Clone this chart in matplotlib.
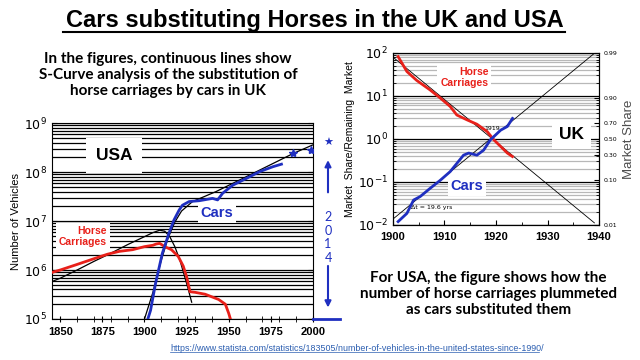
import numpy as np
import matplotlib
matplotlib.use("Agg")
import matplotlib.pyplot as plt
from matplotlib.patches import FancyArrowPatch
from matplotlib.ticker import LogLocator, FixedLocator, NullFormatter, FixedFormatter

# ---- USA data (number of vehicles) ----
usa_horse_year = [1845, 1850, 1860, 1870, 1878, 1885, 1893, 1900, 1905, 1907, 1909, 1912, 1916, 1920, 1923, 1925, 1927, 1930, 1936, 1944, 1948, 1950, 1951]
usa_horse_val = [8.9e5, 1.0e6, 1.3e6, 1.7e6, 2.1e6, 2.4e6, 2.6e6, 3.0e6, 3.2e6, 3.4e6, 3.5e6, 3.0e6, 2.6e6, 1.9e6, 1.2e6, 7.3e5, 3.6e5, 3.5e5, 3.2e5, 2.5e5, 2.0e5, 1.3e5, 1.0e5]

usa_horse_fit_year = [1845, 1850, 1860, 1870, 1880, 1890, 1900, 1905, 1909, 1912, 1915, 1918, 1921, 1924, 1926, 1928]
usa_horse_fit_val = [5.8e5, 6.8e5, 1e6, 1.5e6, 2.2e6, 3.3e6, 4.8e6, 5.8e6, 6.5e6, 6.2e6, 4.8e6, 3.0e6, 1.6e6, 7e5, 4e5, 2.2e5]

usa_car_year = [1902, 1903.6, 1906.6, 1910.6, 1914.5, 1917.5, 1920.5, 1922.5, 1926.5, 1932.5, 1936.5, 1940.4, 1943.4, 1946.4, 1952.4, 1960.4, 1968.3, 1976.3, 1981.3]
usa_car_val = [1e5, 1.5e5, 5.4e5, 2.2e6, 5.6e6, 1.05e7, 1.66e7, 2.1e7, 2.5e7, 2.6e7, 2.75e7, 2.9e7, 2.7e7, 3.7e7, 5.4e7, 7.4e7, 1.02e8, 1.29e8, 1.45e8]

usa_car_fit_year = [1900, 1905, 1910, 1914, 1918, 1922, 1928.5, 1942.5, 1964.4, 1988.3, 2000]
usa_car_fit_val = [1e5, 3.5e5, 1.6e6, 4.5e6, 9.5e6, 1.6e7, 2.5e7, 4e7, 9.4e7, 2.4e8, 3.6e8]

usa_star_year = [1988, 1998.6]
usa_star_val = [2.4e8, 2.8e8]

# ---- UK data (market share / remaining market) ----
uk_horse_year = [1901.0, 1902.7, 1904.6, 1907.2, 1909.2, 1911.1, 1912.4, 1914.4, 1916.3, 1918.3, 1919.6, 1920.9, 1922.2, 1923.2]
uk_horse_val = [82, 37, 23, 13.8, 8.9, 5.7, 3.6, 2.77, 2.2, 1.48, 0.95, 0.67, 0.47, 0.39]

uk_car_year = [1901.0, 1902.7, 1904.0, 1905.3, 1907.2, 1909.2, 1911.1, 1912.4, 1913.7, 1914.7, 1916.3, 1917.6, 1918.9, 1920.9, 1922.2, 1923.2]
uk_car_val = [0.012, 0.0186, 0.038, 0.046, 0.071, 0.11, 0.174, 0.27, 0.42, 0.47, 0.42, 0.55, 0.95, 1.6, 1.95, 3.0]

uk_fit_up_year = [1899.1, 1939.1]
uk_fit_up_val = [0.0112, 98]
uk_fit_down_year = [1899.1, 1939.1]
uk_fit_down_val = [98, 0.0112]

share_ticks = [0.01, 0.10, 0.30, 0.50, 0.70, 0.90, 0.99]

RED = "#e8201a"
BLUE = "#1f2fc0"
body = ["Lato", "DejaVu Sans"]
arial = ["Liberation Sans", "DejaVu Sans"]

plt.rcParams["mathtext.default"] = "bf"

fig = plt.figure(figsize=(6.4, 3.6), dpi=100)
fig.patch.set_facecolor("white")

# title
fig.text(0.492, 0.925, "Cars substituting Horses in the UK and USA", ha="center", va="baseline",
         fontsize=17, fontweight="bold", family=arial)
fig.add_artist(plt.Line2D([0.098, 0.883], [0.911, 0.911], color="black", lw=1.5))

fig.text(0.2625, 0.792, "In the figures, continuous lines show\nS-Curve analysis of the substitution of\nhorse carriages by cars in UK",
         ha="center", va="center", fontsize=11, fontweight="bold", family=body, linespacing=1.2)
fig.text(0.763, 0.183, "For USA, the figure shows how the\nnumber of horse carriages plummeted\nas cars substituted them",
         ha="center", va="center", fontsize=11, fontweight="bold", family=body, linespacing=1.2)
fig.text(0.266, 0.033, "https://www.statista.com/statistics/183505/number-of-vehicles-in-the-united-states-since-1990/",
         ha="left", va="center", fontsize=6.4, color="#2a5db0", family=arial)
fig.add_artist(plt.Line2D([0.266, 0.842], [0.023, 0.023], color="#2a5db0", lw=0.5))

# ---- USA panel ----
ax = fig.add_axes([0.081, 0.114, 0.408, 0.544])
ax.set_yscale("log")
ax.set_xlim(1845, 2000)
ax.set_ylim(1e5, 1e9)
ax.yaxis.set_minor_locator(LogLocator(base=10, subs=np.arange(2, 10)))
ax.yaxis.set_minor_formatter(NullFormatter())
ax.grid(True, which="both", axis="y", color="black", lw=0.9)
ax.set_xticks([1850, 1875, 1900, 1925, 1950, 1975, 2000])
ax.xaxis.set_minor_locator(FixedLocator(np.arange(1850, 2001, 10)))
ax.tick_params(which="both", direction="in", right=True)
ax.tick_params(axis="y", labelsize=9)
ax.tick_params(axis="x", which="both", direction="inout", length=5, labelsize=8)
for lab in ax.get_xticklabels():
    lab.set_fontweight("bold")
    lab.set_family(arial)
ax.set_ylabel("Number of Vehicles", fontsize=8, labelpad=2, family=arial)
ax.plot(usa_horse_fit_year, usa_horse_fit_val, color="black", lw=0.9, zorder=3)
ax.plot(usa_car_fit_year, usa_car_fit_val, color="black", lw=0.9, zorder=3)
ax.plot(usa_horse_year, usa_horse_val, color=RED, lw=2, zorder=4)
ax.plot(usa_car_year, usa_car_val, color=BLUE, lw=2, zorder=4)
ax.plot(usa_star_year, usa_star_val, ls="none", marker="*", color=BLUE, ms=6, zorder=5)
box = dict(facecolor="white", edgecolor="none", pad=2)
ax.text(1881.8, 2.2e8, "USA", ha="center", va="center", fontsize=12.5, fontweight="bold", family=arial,
        bbox=dict(facecolor="white", edgecolor="none", pad=7))
ax.text(1877.7, 4.9e6, "Horse\nCarriages", ha="right", va="center", multialignment="right", fontsize=7.5,
        fontweight="bold", color=RED, family=arial, bbox=box, linespacing=1.15)
ax.text(1943, 1.45e7, "Cars", ha="center", va="center", fontsize=10.5, fontweight="bold", color=BLUE,
        family=arial, bbox=box)

# 2014 arrow annotation
fig.text(0.5125, 0.603, "\u2605", ha="center", va="center", color=BLUE, fontsize=8)
fig.add_artist(plt.Line2D([0.489, 0.531], [0.114, 0.114], color=BLUE, lw=2))
fig.text(0.5125, 0.34, "2\n0\n1\n4", ha="center", va="center", color=BLUE, fontsize=9, family=body, linespacing=1.15)
fig.add_artist(FancyArrowPatch((0.5125, 0.458), (0.5125, 0.563), transform=fig.transFigure,
                               arrowstyle="-|>", mutation_scale=9, color=BLUE, lw=1.5))
fig.add_artist(FancyArrowPatch((0.5125, 0.269), (0.5125, 0.138), transform=fig.transFigure,
                               arrowstyle="-|>", mutation_scale=9, color=BLUE, lw=1.5))

# ---- UK panel ----
ux = fig.add_axes([0.614, 0.375, 0.322, 0.478])
ux.set_yscale("log")
ux.set_xlim(1900, 1940)
ux.set_ylim(1e-2, 1e2)
ux.yaxis.set_minor_locator(LogLocator(base=10, subs=np.arange(2, 10)))
ux.yaxis.set_minor_formatter(NullFormatter())
ux.grid(True, which="major", axis="y", color="black", lw=0.9)
ux.grid(True, which="minor", axis="y", color="0.72", lw=0.9)
ux.set_xticks([1900, 1910, 1920, 1930, 1940])
ux.xaxis.set_minor_locator(FixedLocator(np.arange(1900, 1941, 5)))
ux.tick_params(which="both", direction="in")
ux.tick_params(axis="y", labelsize=9)
ux.tick_params(axis="x", labelsize=8, pad=5)
for lab in ux.get_xticklabels():
    lab.set_fontweight("bold")
    lab.set_family(arial)
ux.set_ylabel("Market  Share/Remaining  Market", fontsize=7.5, labelpad=2, family=arial)
ux.plot(uk_fit_up_year, uk_fit_up_val, color="black", lw=0.6, zorder=3)
ux.plot(uk_fit_down_year, uk_fit_down_val, color="black", lw=0.6, zorder=3)
ux.plot(uk_horse_year, uk_horse_val, color=RED, lw=2, zorder=4)
ux.plot(uk_car_year, uk_car_val, color=BLUE, lw=2, zorder=4)
ux.text(1918.5, 27, "Horse\nCarriages", ha="right", va="center", multialignment="right", fontsize=7.5,
        fontweight="bold", color=RED, family=arial, bbox=box, linespacing=1.15)
ux.text(1934.7, 1.24, "UK", ha="center", va="center", fontsize=12.5, fontweight="bold", family=arial,
        bbox=dict(facecolor="white", edgecolor="none", pad=5))
ux.text(1914.4, 0.081, "Cars", ha="center", va="center", fontsize=10.5, fontweight="bold", color=BLUE,
        family=arial, bbox=box)
ux.text(1919.3, 1.75, "1919", ha="center", va="center", fontsize=4.5)
ux.text(1907.6, 0.025, "\u0394t = 19.6 yrs", ha="center", va="center", fontsize=4.5)

rx = ux.twinx()
rx.set_yscale("log")
rx.set_ylim(1e-2, 1e2)
rx.yaxis.set_major_locator(FixedLocator([f / (1 - f) for f in share_ticks]))
rx.yaxis.set_major_formatter(FixedFormatter(["%.2f" % f for f in share_ticks]))
rx.yaxis.set_minor_locator(LogLocator(base=10, subs=np.arange(2, 10)))
rx.yaxis.set_minor_formatter(NullFormatter())
rx.tick_params(which="both", direction="in", labelsize=4.5)
rx.set_ylabel("Market Share", fontsize=9.5, color="0.3", labelpad=4, family=arial)

fig.savefig("out.png", dpi=100, facecolor="white")
